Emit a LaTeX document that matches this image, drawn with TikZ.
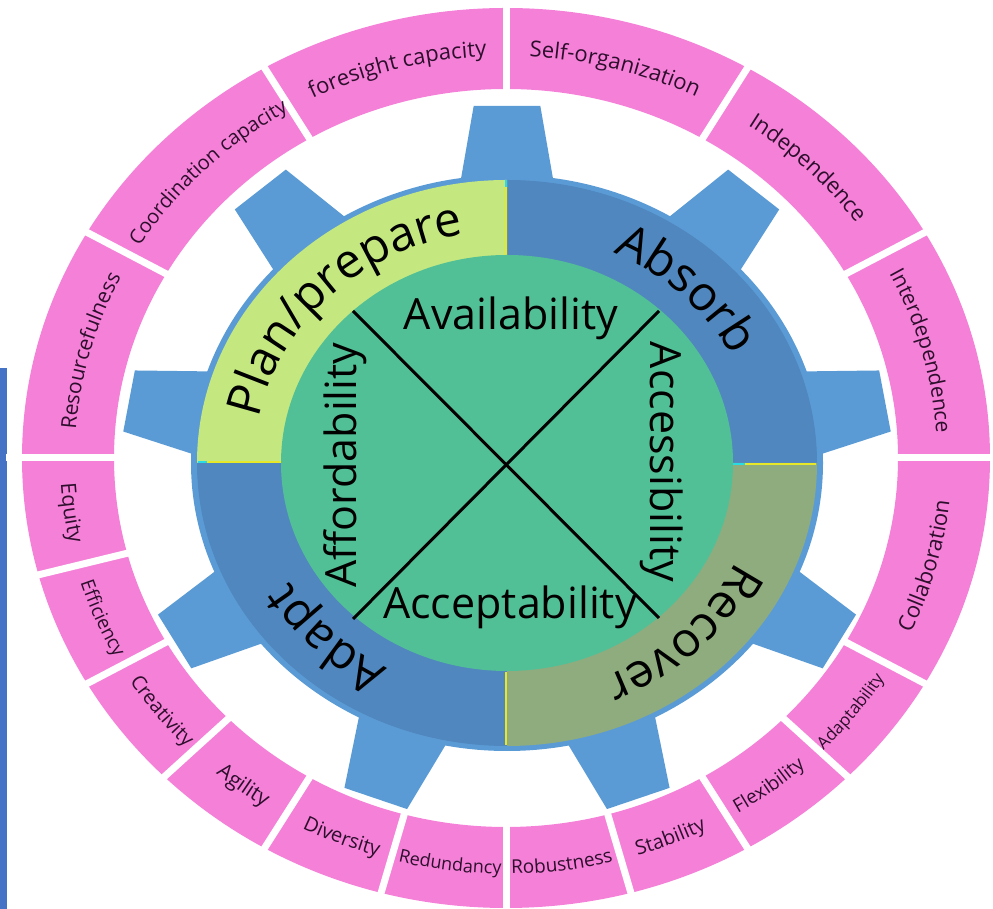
\documentclass[tikz,border=0pt]{standalone}
\usepackage{fontspec}
\setmainfont{Open Sans}
\usetikzlibrary{calc,decorations.text}
\definecolor{pinkc}{RGB}{245,128,215}
\definecolor{gearblue}{RGB}{91,155,213}
\definecolor{ringblue}{RGB}{80,135,190}
\definecolor{planc}{RGB}{196,232,127}
\definecolor{recc}{RGB}{143,172,126}
\definecolor{discc}{RGB}{82,192,150}
\definecolor{barblue}{RGB}{68,114,196}
\definecolor{seamy}{RGB}{232,232,40}
\definecolor{seamc}{RGB}{40,220,230}
\definecolor{labc}{RGB}{45,15,45}
% label on the upper half of the pink ring (reads clockwise, tops outward)
\newcommand\mytoplab[3]{%
  \path[decorate,decoration={text along path,text align=center,text color=labc,
      text={|\fontsize{#2}{#2}\selectfont|#3}}]
    ($(P)+({#1+40}:431 and 402)$) arc[start angle={#1+40},end angle={#1-40},x radius=431,y radius=402];}
% label on the lower half of the pink ring (reads counter-clockwise, tops inward)
\newcommand\mybotlab[3]{%
  \path[decorate,decoration={text along path,text align=center,text color=labc,
      text={|\fontsize{#2}{#2}\selectfont|#3}}]
    ($(P)+({#1-40}:446 and 416)$) arc[start angle={#1-40},end angle={#1+40},x radius=446,y radius=416];}
% label in the middle ring (reads clockwise, tops outward)
\newcommand\mymidlab[2]{%
  \path[decorate,decoration={text along path,text align=center,
      text={|\fontsize{48}{48}\selectfont|#2}}]
    ($(G)+({#1+50}:253 and 232)$) arc[start angle={#1+50},end angle={#1-50},x radius=253,y radius=232];}
\begin{document}
\begin{tikzpicture}[x=1pt,y=1pt,
  inner/.style={font=\fontsize{43}{43}\selectfont,inner sep=0pt},
  seam/.style={line width=1.6pt}]
\useasboundingbox (0,0) rectangle (993,909);
\coordinate (P) at (506,451);
\coordinate (G) at (507,446);
% side bar
\fill[barblue] (0,0) rectangle (7,541);
% pink ring
\fill[pinkc,even odd rule] (P) ellipse[x radius=484,y radius=450] ellipse[x radius=392,y radius=369];
\foreach \a in {0,30,60,90,120,150,180,195,210,225,240,255,270,285,300,315,330}
  \draw[white,line width=7pt] ($(P)+(\a:380 and 357)$) -- ($(P)+(\a:500 and 466)$);
% gear teeth
\begin{scope}[shift={(G)},xscale=1.075]
\foreach \a in {90,130,...,410}
  \fill[gearblue,rotate=\a] (240,-50) -- (357,-31) -- (357,31) -- (240,50) -- cycle;
\end{scope}
% gear body
\fill[gearblue] (G) ellipse[x radius=316,y radius=288];
% four quadrants
\fill[ringblue] (G) -- ($(G)+(0:310 and 283)$) arc[start angle=0,end angle=90,x radius=310,y radius=283] -- cycle;
\fill[planc] (G) -- ($(G)+(90:310 and 283)$) arc[start angle=90,end angle=180,x radius=310,y radius=283] -- cycle;
\fill[ringblue] (G) -- ($(G)+(180:310 and 283)$) arc[start angle=180,end angle=270,x radius=310,y radius=283] -- cycle;
\fill[recc] (G) -- ($(G)+(270:310 and 283)$) arc[start angle=270,end angle=360,x radius=310,y radius=283] -- cycle;
% seams
\draw[seam,seamy] ($(G)+(-300,1)$) -- ($(G)+(-226,1)$);
\draw[seam,seamc] ($(G)+(-309,1)$) -- ($(G)+(-300,1)$);
\draw[seam,seamy] ($(G)+(-1,206)$) -- ($(G)+(-1,276)$);
\draw[seam,seamc] ($(G)+(-1,276)$) -- ($(G)+(-1,283)$);
\draw[seam,seamc] ($(G)+(224,-1)$) -- ($(G)+(238,-1)$);
\draw[seam,seamy] ($(G)+(238,-1)$) -- ($(G)+(309,-1)$);
\draw[seam,seamy] ($(G)+(-1,-209)$) -- ($(G)+(-1,-282)$);
% inner disc
\fill[discc] (G) ellipse[x radius=226,y radius=208];
% cross
\coordinate (c1) at ($(G)+(-154,152)$);
\coordinate (c2) at ($(G)+(152,-155)$);
\coordinate (c3) at ($(G)+(152,152)$);
\coordinate (c4) at ($(G)+(-154,-156)$);
\draw[line width=3pt] (c1) -- (c2);
\draw[line width=3pt] (c3) -- (c4);
% inner texts
\node[inner] (avail) at ($(G)+(4,145)$) {Availability};
\node[inner] (accept) at ($(G)+(3,-144)$) {Acceptability};
\node[inner,rotate=90] (afford) at ($(G)+(-162,-2)$) {Affordability};
\node[inner,rotate=-90] (access) at ($(G)+(155,1)$) {Accessibility};
% middle ring texts
\mymidlab{135}{Plan/prepare}
\mymidlab{45}{Absorb}
\mymidlab{-45}{Recover}
\mymidlab{225}{Adapt}
% pink labels, upper half
\mytoplab{105}{22}{foresight capacity}
\mytoplab{135}{20}{Coordination capacity}
\mytoplab{165}{21}{Resourcefulness}
\mytoplab{75}{22}{Self-organization}
\mytoplab{45}{22}{Independence}
\mytoplab{15}{21}{Interdependence}
% pink labels, lower half
\mybotlab{345}{22}{Collaboration}
\mybotlab{322.5}{17}{Adaptability}
\mybotlab{307.5}{19}{Flexibility}
\mybotlab{292.5}{20}{Stability}
\mybotlab{277.5}{19}{Robustness}
\mybotlab{262.5}{18}{Redundancy}
\mybotlab{247.5}{20}{Diversity}
\mybotlab{232.5}{21}{Agility}
\mybotlab{217.5}{20}{Creativity}
\mybotlab{202.5}{19}{Efficiency}
\mybotlab{187.5}{21}{Equity}
\end{tikzpicture}
\end{document}
